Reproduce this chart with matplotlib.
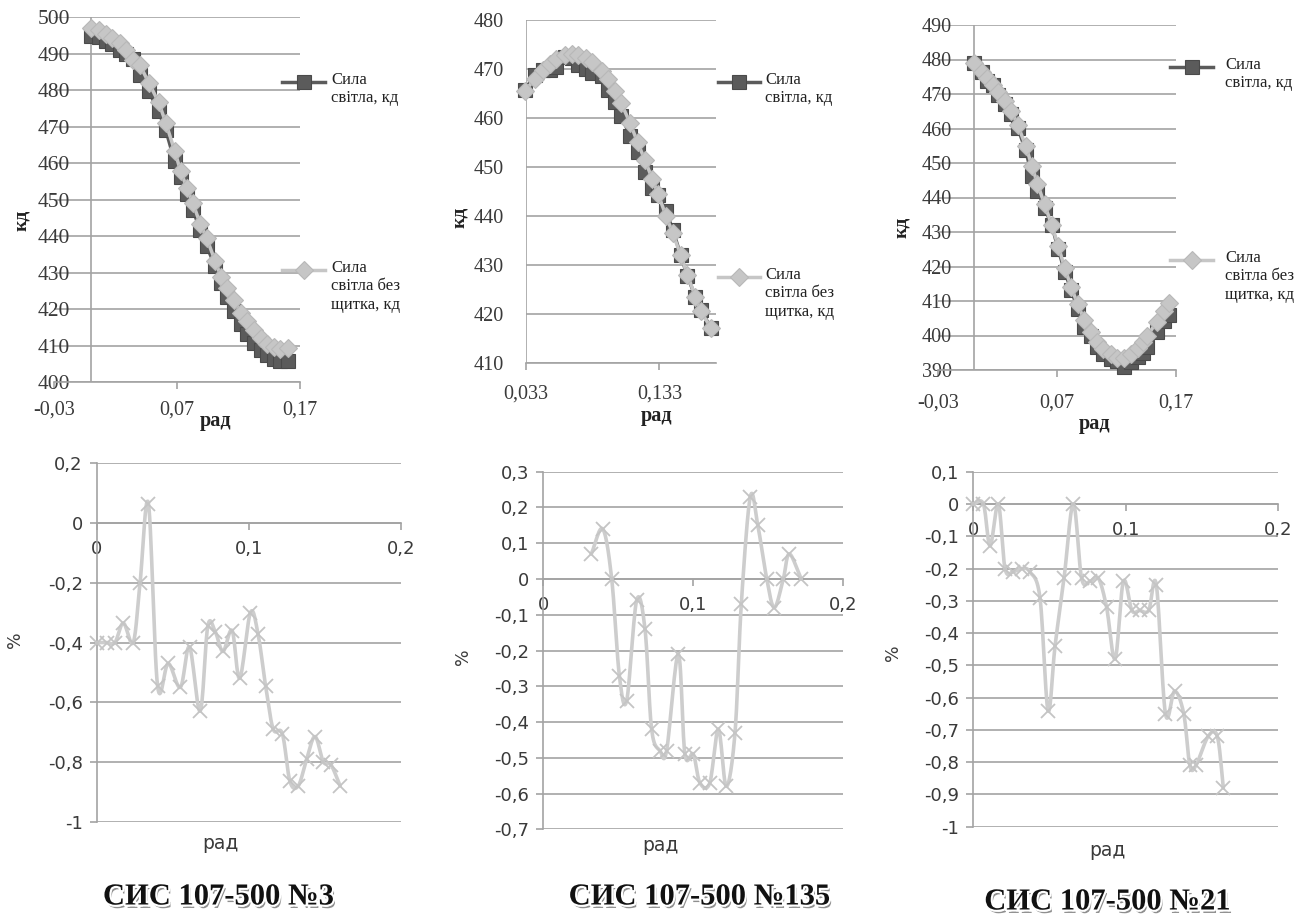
import matplotlib
matplotlib.use('Agg')
import matplotlib.pyplot as plt
import matplotlib.patheffects as pe
from matplotlib.lines import Line2D
from matplotlib.ticker import FuncFormatter
import numpy as np

W, H = 1306, 921

# СИС 107-500 №3
rad3 = [0.0, 0.0066, 0.012, 0.0175, 0.024, 0.0285, 0.034, 0.040, 0.047, 0.055,
        0.061, 0.068, 0.073, 0.078, 0.083, 0.089, 0.094, 0.101, 0.106, 0.111,
        0.116, 0.122, 0.127, 0.1325, 0.138, 0.1435, 0.149, 0.154, 0.160]
kd3 = [495.0, 494.5, 493.5, 492.6, 491.0, 490.0, 488.7, 484.2, 479.8, 474.2,
       469.0, 460.6, 456.2, 451.7, 447.1, 441.7, 437.3, 431.9, 427.2, 423.4,
       419.6, 416.0, 413.2, 410.7, 408.9, 407.6, 406.3, 405.9, 405.7]
kd3_free = [497.0, 496.5, 495.5, 494.3, 493.0, 491.0, 488.4, 486.8, 482.1, 476.8,
            471.0, 463.5, 457.8, 453.3, 449.0, 443.3, 439.6, 433.2, 428.8, 425.7,
            422.5, 419.0, 416.8, 414.3, 412.1, 410.5, 409.6, 409.2, 409.3]
pct3 = [-0.40, -0.40, -0.40, -0.335, -0.40, -0.20, 0.065, -0.545, -0.47, -0.55,
        -0.415, -0.63, -0.345, -0.365, -0.43, -0.36, -0.52, -0.30, -0.37, -0.545,
        -0.69, -0.705, -0.865, -0.88, -0.79, -0.715, -0.80, -0.81, -0.88]

# СИС 107-500 №135
rad135 = [0.032, 0.0396, 0.0456, 0.0507, 0.0556, 0.0622, 0.0678, 0.0722, 0.0778,
          0.0822, 0.0900, 0.0944, 0.1000, 0.1044, 0.1110, 0.1167, 0.1220, 0.1278,
          0.1320, 0.1380, 0.1430, 0.1490, 0.1540, 0.1600, 0.1640, 0.1720]
kd135 = [465.7, 468.7, 469.8, 469.7, 470.4, 472.5, 472.3, 470.8, 470.0, 469.2,
         468.5, 465.7, 463.2, 460.4, 456.4, 453.1, 448.9, 445.6, 444.2, 441.0,
         437.2, 432.0, 427.7, 423.5, 420.8, 417.0]
kd135_free = [465.4, 468.0, 469.8, 471.0, 472.0, 472.8, 473.0, 472.8, 472.3, 471.5,
              469.5, 468.0, 465.5, 463.0, 459.0, 455.0, 451.5, 447.5, 444.5, 440.0,
              436.5, 432.0, 428.0, 423.5, 420.5, 417.0]
pct135 = [0.07, 0.14, 0.0, -0.27, -0.34, -0.06, -0.14, -0.42, -0.48, -0.48,
          -0.21, -0.49, -0.49, -0.57, -0.57, -0.42, -0.58, -0.43, -0.07, 0.23,
          0.15, 0.0, -0.08, 0.0, 0.07, 0.0]

# СИС 107-500 №21
rad21 = [0.0, 0.0066, 0.011, 0.0164, 0.0208, 0.026, 0.0317, 0.037, 0.0437, 0.049,
         0.0536, 0.0595, 0.0656, 0.071, 0.0765, 0.082, 0.0874, 0.093, 0.0984, 0.104,
         0.109, 0.115, 0.12, 0.126, 0.132, 0.138, 0.142, 0.146, 0.154, 0.16, 0.164]
kd21 = [479.0, 476.5, 473.9, 472.5, 469.6, 467.0, 464.1, 460.1, 453.7, 446.1,
        442.0, 437.0, 432.0, 425.0, 418.5, 413.1, 407.7, 402.6, 400.0, 396.7,
        394.7, 393.2, 392.5, 390.9, 392.2, 393.9, 394.8, 396.8, 401.1, 404.1, 405.9]
kd21_free = [479.0, 476.5, 474.5, 472.5, 470.5, 468.0, 465.0, 461.0, 455.0, 449.0,
             444.0, 438.0, 432.0, 426.0, 419.5, 414.0, 409.0, 404.5, 401.0, 398.0,
             396.0, 394.5, 393.5, 393.5, 394.5, 396.5, 398.0, 400.0, 404.0, 407.0, 409.5]
pct21 = [0.0, 0.0, -0.13, 0.0, -0.20, -0.21, -0.20, -0.21, -0.29, -0.64,
         -0.44, -0.23, 0.0, -0.23, -0.24, -0.23, -0.32, -0.48, -0.24, -0.33,
         -0.33, -0.33, -0.25, -0.65, -0.58, -0.65, -0.81, -0.81, -0.72, -0.72, -0.88]

titles = ['СИС 107-500 №3', 'СИС 107-500 №135', 'СИС 107-500 №21']
legend_names = ['Сила\nсвітла, кд', 'Сила\nсвітла без\nщитка, кд']

GRID = '#a3a3a3'
DARK = '#5b5b5b'
LIGHT = '#c6c6c6'
TXT = '#3a3a3a'
SERIF = 'Liberation Serif'
SANS = 'DejaVu Sans'

fig = plt.figure(figsize=(W / 100, H / 100), dpi=100)


def axes_px(x0, x1, ytop, ybot):
    return fig.add_axes([x0 / W, 1 - ybot / H, (x1 - x0) / W, (ybot - ytop) / H])


def ftext(x, y, s, **kw):
    return fig.text(x / W, 1 - y / H, s, **kw)


def comma(v, _pos=None):
    return f'{round(v, 6) + 0:g}'.replace('.', ',')


def smooth(x, y, n=14):
    # Catmull-Rom curve through the points, as a smoothed line
    x = np.asarray(x, float)
    y = np.asarray(y, float)
    px = np.concatenate([[2 * x[0] - x[1]], x, [2 * x[-1] - x[-2]]])
    py = np.concatenate([[2 * y[0] - y[1]], y, [2 * y[-1] - y[-2]]])
    t = np.linspace(0, 1, n, endpoint=False)[:, None]
    xs, ys = [], []
    for i in range(1, len(px) - 2):
        for arr, out in ((px, xs), (py, ys)):
            p0, p1, p2, p3 = arr[i - 1:i + 3]
            c = 0.5 * (2 * p1 + (-p0 + p2) * t + (2 * p0 - 5 * p1 + 4 * p2 - p3) * t ** 2
                       + (-p0 + 3 * p1 - 3 * p2 + p3) * t ** 3)
            out.extend(c.ravel())
    xs.append(x[-1])
    ys.append(y[-1])
    return xs, ys


def top_chart(box, xlim, xticks, xlabels, ylim, yaxis_x, ypad, yfs, xfs, xpad,
              x, dark, light):
    ax = axes_px(*box)
    ax.set_xlim(xlim)
    ax.set_ylim(ylim)
    for s in ('top', 'right', 'left'):
        ax.spines[s].set_visible(False)
    ax.spines['bottom'].set_color(GRID)
    ax.spines['bottom'].set_linewidth(1.2)
    ax.set_yticks(np.arange(ylim[0], ylim[1] + 1, 10))
    ax.yaxis.grid(True, color=GRID, lw=1.2)
    ax.set_axisbelow(True)
    ax.tick_params(axis='y', length=0, pad=ypad, labelsize=yfs, labelcolor=TXT)
    ax.set_xticks(xticks)
    ax.set_xticklabels(xlabels)
    ax.tick_params(axis='x', length=5, color=GRID, width=1.2, pad=xpad,
                   labelsize=xfs, labelcolor=TXT)
    for lab in ax.get_xticklabels() + ax.get_yticklabels():
        lab.set_fontfamily(SERIF)
    ax.axvline(yaxis_x, color=GRID, lw=1.2, zorder=1)
    ax.plot(x, dark, color=DARK, lw=2.5, marker='s', ms=10.5, mfc=DARK,
            mec='#4a4a4a', mew=0.8, clip_on=False, zorder=3)
    ax.plot(x, light, color=LIGHT, lw=2.5, marker='D', ms=9.5, mfc=LIGHT,
            mec='#b8b8b8', mew=0.8, clip_on=False, zorder=4)
    return ax


def bottom_chart(box, ylim, step, x, pct):
    ax = axes_px(*box)
    ax.set_xlim(0, 0.2)
    ax.set_ylim(ylim)
    for s in ('top', 'right'):
        ax.spines[s].set_visible(False)
    ax.spines['bottom'].set_position(('data', 0))
    for s in ('bottom', 'left'):
        ax.spines[s].set_color(GRID)
        ax.spines[s].set_linewidth(1.2)
    ax.set_yticks(np.arange(ylim[0], ylim[1] + step / 2, step))
    ax.yaxis.set_major_formatter(FuncFormatter(comma))
    ax.yaxis.grid(True, color=GRID, lw=1.2)
    ax.set_axisbelow(True)
    ax.set_xticks([0, 0.1, 0.2])
    ax.xaxis.set_major_formatter(FuncFormatter(comma))
    ax.tick_params(axis='y', length=5, color=GRID, width=1.2, pad=5,
                   labelsize=13, labelcolor=TXT)
    ax.tick_params(axis='x', length=5, color=GRID, width=1.2, pad=7,
                   labelsize=13, labelcolor=TXT)
    for lab in ax.get_xticklabels() + ax.get_yticklabels():
        lab.set_fontfamily(SANS)
    sx, sy = smooth(x, pct)
    ax.plot(sx, sy, color='#cdcdcd', lw=2.6, solid_capstyle='round',
            clip_on=False, zorder=3)
    ax.plot(x, pct, ls='none', marker='x', ms=10, mew=1.3, color='#c4c4c4',
            clip_on=False, zorder=4)
    return ax


def legend_entry(x0, x1, y, tx, text, color, marker, ms):
    fig.add_artist(Line2D([x0 / W, x1 / W], [1 - y / H] * 2,
                          transform=fig.transFigure, color=color, lw=2.5))
    edge = '#4a4a4a' if color == DARK else '#b8b8b8'
    fig.add_artist(Line2D([(x0 + x1) / 2 / W], [1 - y / H], transform=fig.transFigure,
                          marker=marker, ms=ms, mfc=color, mec=edge, mew=0.8, ls='none'))
    ftext(tx, y - 10, text, fontfamily=SERIF, fontsize=12, color='#222222',
          va='top', ha='left', linespacing=1.2)


# top row: light intensity curves
top_chart((54, 300, 17.3, 382.3), (-0.03, 0.17), [-0.03, 0.07, 0.17],
          ['-0,03', '0,07', '0,17'], (400, 500), 0.0, -11.5, 15.5, 14.5, 8,
          rad3, kd3, kd3_free)
top_chart((526, 716, 20, 362.7), (0.033, 0.1755), [0.033, 0.133],
          ['0,033', '0,133'], (410, 480), 0.033, 16, 14.5, 14.5, 11,
          rad135, kd135, kd135_free)
top_chart((938, 1176, 25, 370), (-0.03, 0.17), [-0.03, 0.07, 0.17],
          ['-0,03', '0,07', '0,17'], (390, 490), 0.0, -10, 14.5, 14.5, 12,
          rad21, kd21, kd21_free)

# legends beside the top charts
legend_entry(282, 325, 82, 331, legend_names[0], DARK, 's', 10.5)
legend_entry(282, 325, 270, 331, legend_names[1], LIGHT, 'D', 9.5)
legend_entry(718, 760, 82, 765, legend_names[0], DARK, 's', 10.5)
legend_entry(718, 760, 277, 765, legend_names[1], LIGHT, 'D', 9.5)
legend_entry(1170, 1213, 67, 1225, legend_names[0], DARK, 's', 10.5)
legend_entry(1170, 1213, 260, 1225, legend_names[1], LIGHT, 'D', 9.5)

# bottom row: relative difference, %
bottom_chart((96.7, 401, 463.3, 821.7), (-1.0, 0.2), 0.2, rad3, pct3)
bottom_chart((543.3, 843.3, 471.7, 829.3), (-0.7, 0.3), 0.1, rad135, pct135)
bottom_chart((973.3, 1278.3, 471.7, 826.7), (-1.0, 0.1), 0.1, rad21, pct21)

# axis titles
for x, y in ((22, 220), (460, 217), (902, 227)):
    ftext(x, y, 'кд', rotation=90, fontfamily=SERIF, fontweight='bold',
          fontsize=14, color='#222222', ha='center', va='center')
for x, y in ((216, 421), (657, 416), (1095, 424)):
    ftext(x, y, 'рад', fontfamily=SERIF, fontweight='bold', fontsize=14.5,
          color='#222222', ha='center', va='center')
for x, y in ((15, 640), (463, 657), (893, 653)):
    ftext(x, y, '%', rotation=90, fontfamily=SANS, fontsize=12.5,
          color=TXT, ha='center', va='center')
for x, y in ((220, 843), (660, 845), (1107, 850)):
    ftext(x, y, 'рад', fontfamily=SANS, fontsize=13.5, color=TXT,
          ha='center', va='center')

# instrument captions
shadow = [pe.SimplePatchShadow(offset=(1.5, -2.5), shadow_rgbFace='0.45', alpha=0.8),
          pe.Stroke(linewidth=3, foreground='white'), pe.Normal()]
for (x, y), t in zip(((218, 897), (699, 897), (1107, 902)), titles):
    ftext(x, y, t, fontfamily=SERIF, fontweight='bold', fontsize=22,
          color='#111111', ha='center', va='center', path_effects=shadow)

fig.savefig('out.png', dpi=100, facecolor='white')
